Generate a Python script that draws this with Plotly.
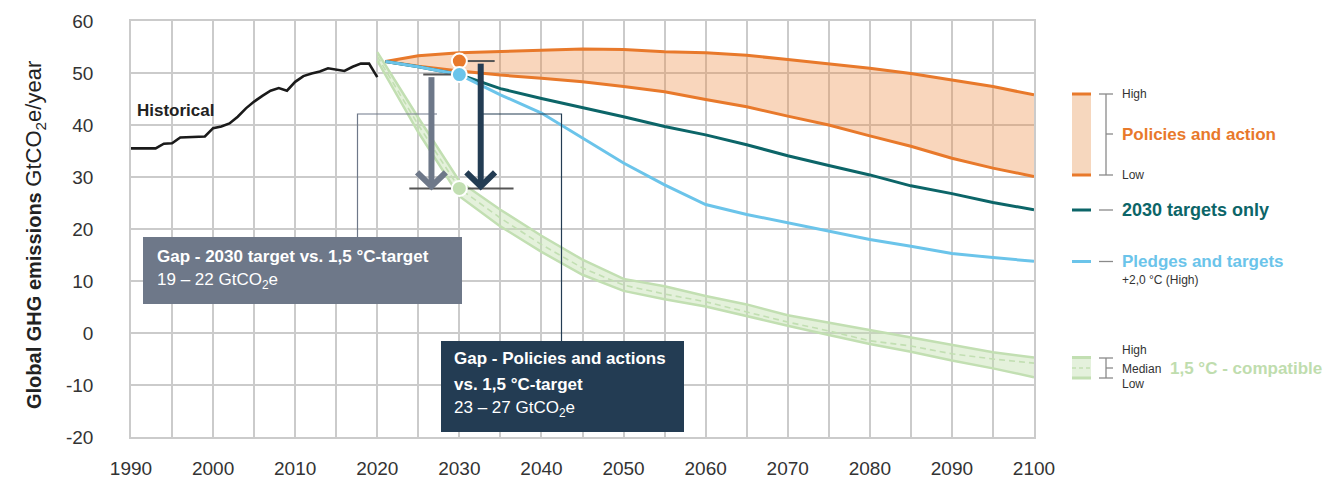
import plotly.graph_objects as go

# ---------------- data ----------------
hist_years = list(range(1990, 2021))
hist_values = [35.5, 35.5, 35.5, 35.5, 36.4, 36.5, 37.6, 37.7, 37.7, 37.8,
               39.4, 39.7, 40.3, 41.6, 43.2, 44.5, 45.6, 46.6, 47.1, 46.6,
               48.3, 49.4, 49.9, 50.3, 50.9, 50.6, 50.4, 51.2, 51.8, 51.8, 49.2]

proj_years = [2021, 2025, 2030, 2035, 2040, 2045, 2050, 2055, 2060, 2065,
              2070, 2075, 2080, 2085, 2090, 2095, 2100]
policies_high = [52.2, 53.3, 53.9, 54.1, 54.4, 54.6, 54.5, 54.1, 53.9, 53.4,
                 52.6, 51.8, 50.9, 49.9, 48.6, 47.4, 45.8]
policies_low = [52.2, 51.3, 50.4, 49.6, 49.0, 48.3, 47.4, 46.4, 44.9, 43.5,
                41.7, 40.0, 37.9, 35.9, 33.6, 31.7, 30.1]
targets_2030 = [52.2, 51.2, 49.7, 47.0, 45.1, 43.4, 41.6, 39.7, 38.1, 36.2,
                34.1, 32.2, 30.4, 28.3, 26.8, 25.1, 23.7]
pledges = [52.2, 51.2, 49.7, 45.8, 42.3, 37.5, 32.7, 28.5, 24.7, 22.8,
           21.2, 19.6, 18.0, 16.7, 15.3, 14.5, 13.8]

c15_years = [2020, 2025, 2030, 2035, 2040, 2045, 2050, 2055, 2060, 2065,
             2070, 2075, 2080, 2085, 2090, 2095, 2100]
c15_high = [54.0, 41.4, 29.2, 23.7, 18.7, 14.1, 10.4, 9.0, 7.1, 5.5,
            3.4, 2.0, 0.6, -0.8, -2.3, -3.7, -4.7]
c15_median = [53.2, 40.0, 27.8, 22.1, 17.0, 12.5, 9.2, 7.5, 6.0, 4.1,
              2.1, 0.4, -1.5, -2.5, -4.0, -5.0, -5.8]
c15_low = [52.4, 38.6, 26.3, 20.5, 15.6, 11.2, 8.1, 6.5, 5.1, 3.2,
           1.4, -0.4, -2.1, -3.6, -5.3, -6.8, -8.5]

marker_year = 2030
policies_2030 = 52.3
pledges_2030 = 49.7
c15_2030 = 27.8

x_ticks = list(range(1990, 2101, 10))
y_ticks = list(range(-20, 61, 10))

gap1_title = "Gap - 2030 target vs. 1,5 °C-target"
gap1_range = "19 – 22 GtCO<sub>2</sub>e"
gap2_title = ["Gap - Policies and actions", "vs. 1,5 °C-target"]
gap2_range = "23 – 27 GtCO<sub>2</sub>e"

# ---------------- styles ----------------
ORANGE = "#E8792B"
ORANGE_FILL = "rgba(238,135,60,0.34)"
TEAL = "#0C6568"
BLUE = "#6BC4EA"
GREEN = "#C2DFB2"
GREEN_FILL = "rgba(190,222,170,0.42)"
GREY_BOX = "#6E7889"
NAVY = "#233C53"
HIST = "#1A1A1A"
GRID = "#CBCBCB"
DARKLINE = "#555555"
FONT = "Liberation Sans, Arial, sans-serif"

W, H = 1329, 482
ML, MR, MT, MB = 131, 295, 21, 45
PW, PH = W - ML - MR, H - MT - MB


def px(x):
    return (x - ML) / PW


def py(y):
    return (H - MB - y) / PH


fig = go.Figure()

# 1.5 C band
fig.add_trace(go.Scatter(x=c15_years, y=c15_low, mode="lines",
                         line=dict(color=GREEN, width=2.5), hoverinfo="skip"))
fig.add_trace(go.Scatter(x=c15_years, y=c15_high, mode="lines", fill="tonexty",
                         fillcolor=GREEN_FILL, line=dict(color=GREEN, width=2.5),
                         hoverinfo="skip"))
fig.add_trace(go.Scatter(x=c15_years, y=c15_median, mode="lines",
                         line=dict(color=GREEN, width=1.6, dash="6px,4px"),
                         hoverinfo="skip"))

# policies band
fig.add_trace(go.Scatter(x=proj_years, y=policies_low, mode="lines",
                         line=dict(color=ORANGE, width=3), hoverinfo="skip"))
fig.add_trace(go.Scatter(x=proj_years, y=policies_high, mode="lines", fill="tonexty",
                         fillcolor=ORANGE_FILL, line=dict(color=ORANGE, width=3),
                         hoverinfo="skip"))

# targets & pledges
fig.add_trace(go.Scatter(x=proj_years, y=targets_2030, mode="lines",
                         line=dict(color=TEAL, width=3), hoverinfo="skip"))
fig.add_trace(go.Scatter(x=proj_years, y=pledges, mode="lines",
                         line=dict(color=BLUE, width=3), hoverinfo="skip"))

# historical
fig.add_trace(go.Scatter(x=hist_years, y=hist_values, mode="lines",
                         line=dict(color=HIST, width=2.6), hoverinfo="skip"))

# reference short lines
for (x0, x1, yv) in [(2030.9, 2034.3, policies_2030),
                     (2025.6, 2029.6, pledges_2030),
                     (2023.9, 2036.6, c15_2030)]:
    fig.add_trace(go.Scatter(x=[x0, x1], y=[yv, yv], mode="lines",
                             line=dict(color=DARKLINE, width=2), hoverinfo="skip"))

# arrows
def add_arrow(xa, ytop, ytip, color):
    fig.add_trace(go.Scatter(x=[xa, xa], y=[ytop, ytip + 0.4], mode="lines",
                             line=dict(color=color, width=6), hoverinfo="skip"))
    fig.add_trace(go.Scatter(x=[xa - 1.75, xa, xa + 1.75],
                             y=[ytip + 0.4 + 2.7, ytip + 0.4, ytip + 0.4 + 2.7],
                             mode="lines", line=dict(color=color, width=6),
                             hoverinfo="skip"))


add_arrow(2026.6, pledges_2030 - 0.5, c15_2030, GREY_BOX)
add_arrow(2032.6, policies_2030 - 0.5, c15_2030, NAVY)

# markers
fig.add_trace(go.Scatter(x=[marker_year], y=[policies_2030], mode="markers",
                         marker=dict(color=ORANGE, size=15, line=dict(color="white", width=2)),
                         hoverinfo="skip"))
fig.add_trace(go.Scatter(x=[marker_year], y=[pledges_2030], mode="markers",
                         marker=dict(color=BLUE, size=15, line=dict(color="white", width=2)),
                         hoverinfo="skip"))
fig.add_trace(go.Scatter(x=[marker_year], y=[c15_2030], mode="markers",
                         marker=dict(color=GREEN, size=15, line=dict(color="white", width=2)),
                         hoverinfo="skip"))

shapes = []
annotations = []

# connectors (pixel coordinates -> paper)
shapes.append(dict(type="path", xref="paper", yref="paper",
                   path=f"M {px(357.5)},{py(237)} L {px(357.5)},{py(114)} L {px(437)},{py(114)}",
                   line=dict(color=GREY_BOX, width=1.2)))
shapes.append(dict(type="path", xref="paper", yref="paper",
                   path=f"M {px(483)},{py(114)} L {px(561.5)},{py(114)} L {px(561.5)},{py(341)}",
                   line=dict(color=NAVY, width=1.2)))

# gap boxes
shapes.append(dict(type="rect", xref="paper", yref="paper",
                   x0=px(143), x1=px(462), y0=py(304), y1=py(237),
                   fillcolor=GREY_BOX, line=dict(width=0)))
shapes.append(dict(type="rect", xref="paper", yref="paper",
                   x0=px(441), x1=px(684), y0=py(432), y1=py(341),
                   fillcolor=NAVY, line=dict(width=0)))


def text(x, y, s, size, color, bold=False, xanchor="left", **kw):
    annotations.append(dict(xref="paper", yref="paper", x=px(x), y=py(y),
                            text=f"<b>{s}</b>" if bold else s, showarrow=False,
                            xanchor=xanchor, yanchor="middle",
                            font=dict(family=FONT, size=size, color=color), **kw))


text(155, 256, gap1_title, 17, "white", bold=True)
text(155, 281, gap1_range, 17, "white")
text(452, 358, gap2_title[0], 17, "white", bold=True)
text(452, 384, gap2_title[1], 17, "white", bold=True)
text(452, 409, gap2_range, 17, "white")

text(135, 110, "Historical", 17, "#222222", bold=True)

# y-axis title
annotations.append(dict(xref="paper", yref="paper", x=px(35), y=py(235),
                        text="<b>Global GHG emissions</b> "
                             "<span style='font-size:22px'>GtCO<sub>2</sub>e/year</span>",
                        textangle=-90, showarrow=False, xanchor="center", yanchor="middle",
                        font=dict(family=FONT, size=20, color="#222222")))

# ---------------- legend (right side) ----------------
BR = "#8A8A8A"
# policies swatch
shapes.append(dict(type="rect", xref="paper", yref="paper",
                   x0=px(1072), x1=px(1091), y0=py(175), y1=py(94),
                   fillcolor="#F6D7BE", line=dict(width=0)))
for yy in (94, 175):
    shapes.append(dict(type="line", xref="paper", yref="paper",
                       x0=px(1072), x1=px(1091), y0=py(yy), y1=py(yy),
                       line=dict(color=ORANGE, width=3)))
# bracket
shapes.append(dict(type="line", xref="paper", yref="paper",
                   x0=px(1106), x1=px(1106), y0=py(94), y1=py(175),
                   line=dict(color=BR, width=1.3)))
for yy in (94, 175):
    shapes.append(dict(type="line", xref="paper", yref="paper",
                       x0=px(1099), x1=px(1113), y0=py(yy), y1=py(yy),
                       line=dict(color=BR, width=1.3)))
shapes.append(dict(type="line", xref="paper", yref="paper",
                   x0=px(1106), x1=px(1113), y0=py(134), y1=py(134),
                   line=dict(color=BR, width=1.3)))
text(1120, 94, "High", 12, "#333333")
text(1120, 175, "Low", 12, "#333333")
text(1120, 134, "Policies and action", 17, ORANGE, bold=True)

# 2030 targets
shapes.append(dict(type="line", xref="paper", yref="paper",
                   x0=px(1072), x1=px(1091), y0=py(210), y1=py(210),
                   line=dict(color=TEAL, width=3)))
shapes.append(dict(type="line", xref="paper", yref="paper",
                   x0=px(1099), x1=px(1113), y0=py(210), y1=py(210),
                   line=dict(color=BR, width=1.3)))
text(1120, 210, "2030 targets only", 18, TEAL, bold=True)

# pledges
shapes.append(dict(type="line", xref="paper", yref="paper",
                   x0=px(1072), x1=px(1091), y0=py(261.5), y1=py(261.5),
                   line=dict(color=BLUE, width=3)))
shapes.append(dict(type="line", xref="paper", yref="paper",
                   x0=px(1099), x1=px(1113), y0=py(261.5), y1=py(261.5),
                   line=dict(color=BR, width=1.3)))
text(1120, 261, "Pledges and targets", 17, BLUE, bold=True)
text(1120, 280, "+2,0 °C (High)", 12, "#333333")

# 1.5 C swatch
shapes.append(dict(type="rect", xref="paper", yref="paper",
                   x0=px(1072), x1=px(1091), y0=py(378), y1=py(357.5),
                   fillcolor="#E4F1DC", line=dict(width=0)))
for yy in (357.5, 378):
    shapes.append(dict(type="line", xref="paper", yref="paper",
                       x0=px(1072), x1=px(1091), y0=py(yy), y1=py(yy),
                       line=dict(color=GREEN, width=3)))
shapes.append(dict(type="line", xref="paper", yref="paper",
                   x0=px(1072), x1=px(1091), y0=py(368), y1=py(368),
                   line=dict(color=GREEN, width=1.6, dash="4px,3px")))
shapes.append(dict(type="line", xref="paper", yref="paper",
                   x0=px(1106), x1=px(1106), y0=py(358), y1=py(378),
                   line=dict(color=BR, width=1.3)))
for (xa, xb, yy) in [(1099, 1113, 358), (1106, 1113, 368), (1099, 1113, 378)]:
    shapes.append(dict(type="line", xref="paper", yref="paper",
                       x0=px(xa), x1=px(xb), y0=py(yy), y1=py(yy),
                       line=dict(color=BR, width=1.3)))
text(1120, 350, "High", 12, "#333333")
text(1120, 369, "Median", 12, "#333333")
text(1120, 384, "Low", 12, "#333333")
text(1168, 368, "1,5 °C - compatible", 17, "#BFDDAE", bold=True)

fig.update_layout(
    width=W, height=H,
    margin=dict(l=ML, r=MR, t=MT, b=MB, pad=0, autoexpand=False),
    paper_bgcolor="white", plot_bgcolor="white",
    showlegend=False,
    shapes=shapes, annotations=annotations,
    font=dict(family=FONT, color="#333333"),
    xaxis=dict(range=[1990, 2100], tickvals=x_ticks, ticktext=[str(v) for v in x_ticks],
               showgrid=True, gridcolor=GRID, gridwidth=1.6, automargin=False,
               minor=dict(dtick=5, tick0=1990, showgrid=True, gridcolor=GRID, gridwidth=1.6),
               showline=True, mirror=True, linecolor=GRID, linewidth=1.6,
               zeroline=False, ticks="", ticklabelstandoff=13,
               tickfont=dict(family=FONT, size=19, color="#333333")),
    yaxis=dict(range=[-20, 60], tickvals=y_ticks, ticktext=[str(v) for v in y_ticks],
               showgrid=True, gridcolor=GRID, gridwidth=1.6, automargin=False,
               showline=True, mirror=True, linecolor=GRID, linewidth=1.6,
               zeroline=False, ticks="", ticklabelstandoff=32,
               tickfont=dict(family=FONT, size=19, color="#333333")),
)

fig.write_html("out.html")
